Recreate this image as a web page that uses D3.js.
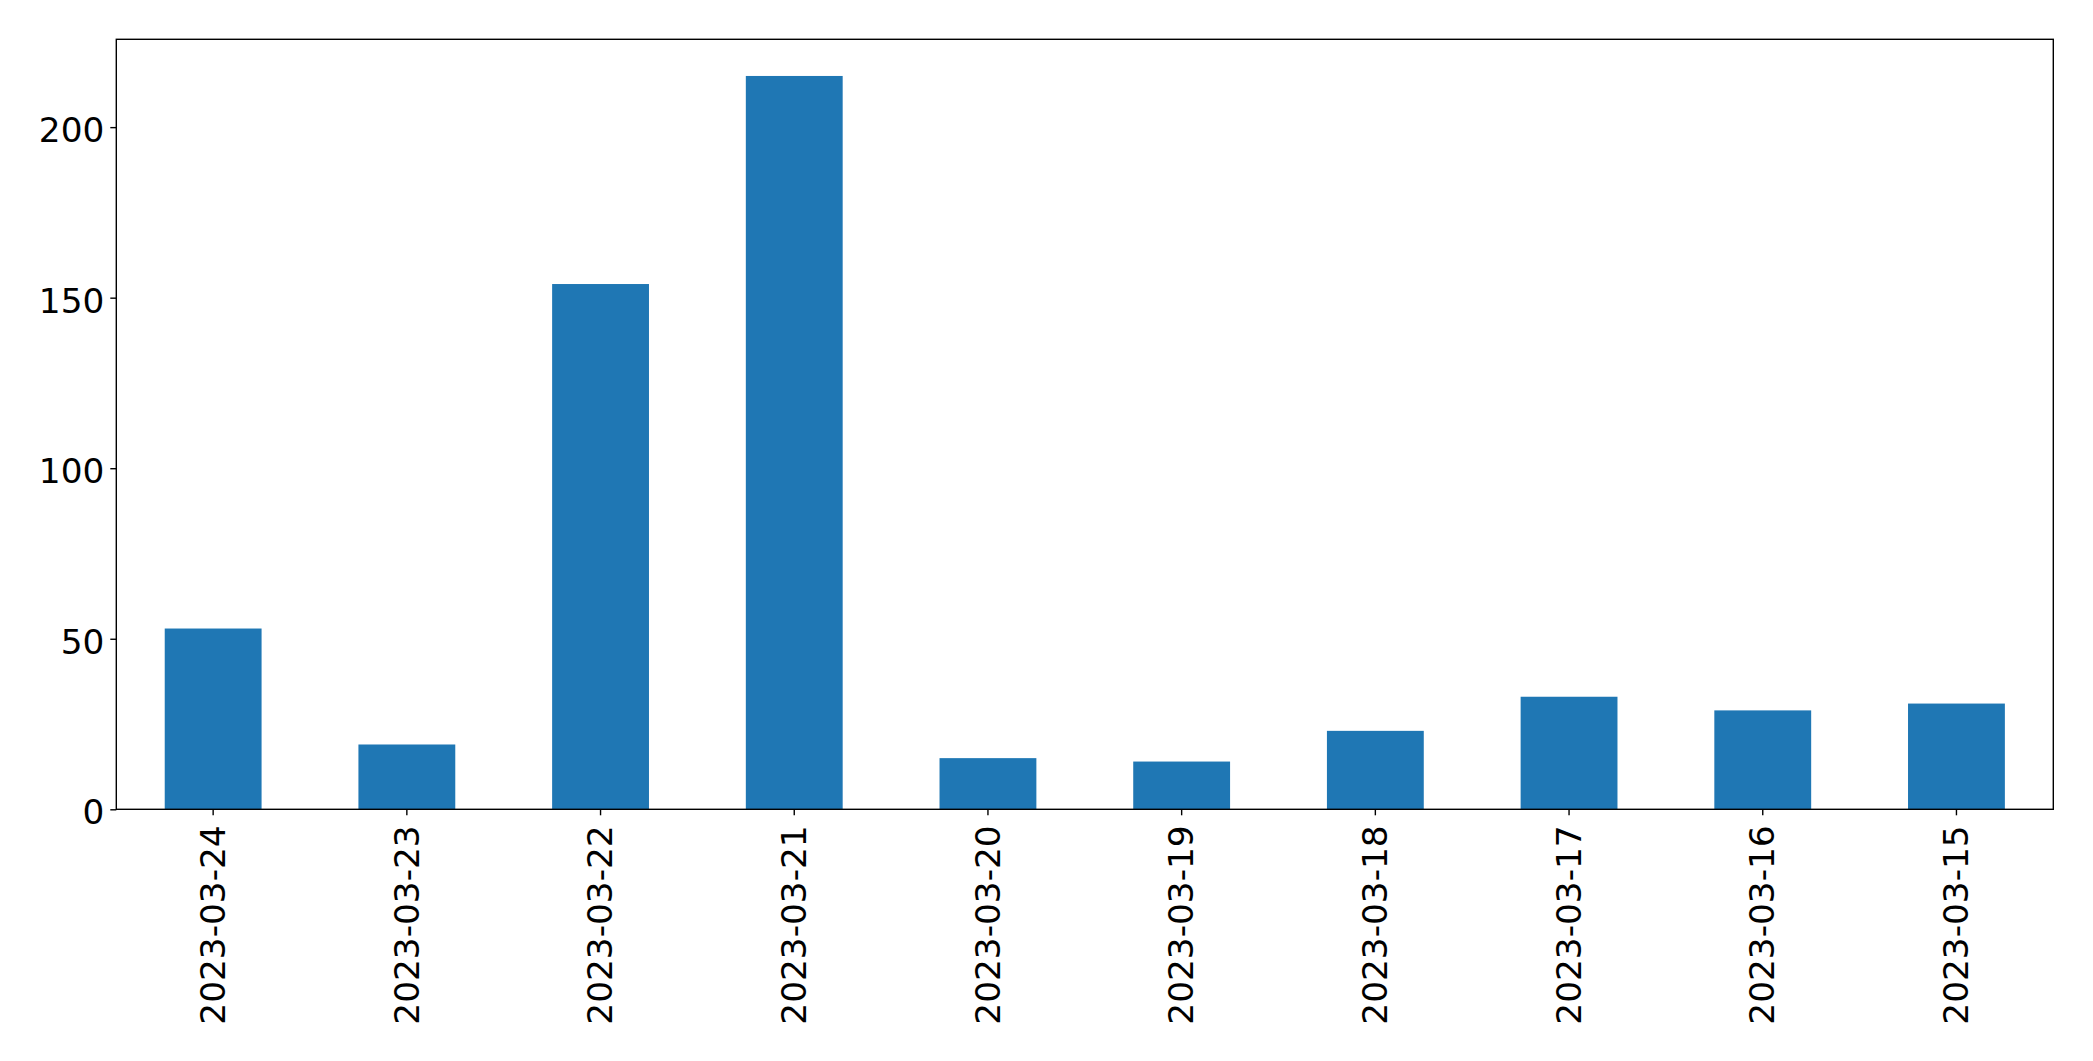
<!DOCTYPE html>
<html>
<head>
<meta charset="utf-8">
<script src="https://cdn.jsdelivr.net/npm/d3@7"></script>
<style>
  html, body { margin: 0; padding: 0; background: #ffffff; }
  svg { display: block; }
  text { font-family: "DejaVu Sans", sans-serif; fill: #000; }
</style>
</head>
<body>
<svg id="chart" width="2093" height="1061"></svg>
<script>
const categories = ["2023-03-24","2023-03-23","2023-03-22","2023-03-21","2023-03-20","2023-03-19","2023-03-18","2023-03-17","2023-03-16","2023-03-15"];
const values = [53, 19, 154, 215, 15, 14, 23, 33, 29, 31];
const yTicks = [0, 50, 100, 150, 200];

const W = 2093, H = 1061;
const margin = { left: 116.3, right: 2093 - 2053.3, top: 39.3, bottom: 1061 - 809.3 };
const svg = d3.select("#chart");
const fontSize = 34.3;

const x = d3.scaleBand()
  .domain(categories)
  .range([margin.left, W - margin.right])
  .paddingInner(0.5)
  .paddingOuter(0.25);

const yMax = d3.max(values) * 1.05;
const y = d3.scaleLinear().domain([0, yMax]).range([H - margin.bottom, margin.top]);

// bars
svg.append("g").selectAll("rect")
  .data(values)
  .join("rect")
  .attr("x", (d, i) => x(categories[i]))
  .attr("width", x.bandwidth())
  .attr("y", d => y(d))
  .attr("height", d => y(0) - y(d))
  .attr("fill", "#1f77b4");

// y axis
const yAxis = d3.axisLeft(y).tickValues(yTicks).tickSize(6).tickPadding(6).tickFormat(d3.format("d"));
const gy = svg.append("g").attr("transform", `translate(${margin.left},0)`).call(yAxis);
gy.select(".domain").remove();
gy.selectAll(".tick line").attr("stroke", "#000").attr("stroke-width", 1.4);
gy.selectAll(".tick text")
  .attr("font-size", fontSize)
  .attr("font-family", "DejaVu Sans")
  .attr("dy", null)
  .attr("dominant-baseline", "alphabetic")
  .attr("transform", "translate(0,14.5)");

// x axis
const xAxis = d3.axisBottom(x).tickSize(6).tickPadding(0);
const gx = svg.append("g").attr("transform", `translate(0,${H - margin.bottom})`).call(xAxis);
gx.select(".domain").remove();
gx.selectAll(".tick line").attr("stroke", "#000").attr("stroke-width", 1.4);
gx.selectAll(".tick text")
  .attr("font-size", fontSize)
  .attr("font-family", "DejaVu Sans")
  .attr("y", null)
  .attr("dy", null)
  .attr("text-anchor", "end")
  .attr("dominant-baseline", "alphabetic")
  .attr("transform", "translate(11.7,16) rotate(-90)");

// frame
svg.append("rect")
  .attr("x", margin.left)
  .attr("y", margin.top)
  .attr("width", W - margin.right - margin.left)
  .attr("height", H - margin.bottom - margin.top)
  .attr("fill", "none")
  .attr("stroke", "#000")
  .attr("stroke-width", 1.4);
</script>
</body>
</html>
